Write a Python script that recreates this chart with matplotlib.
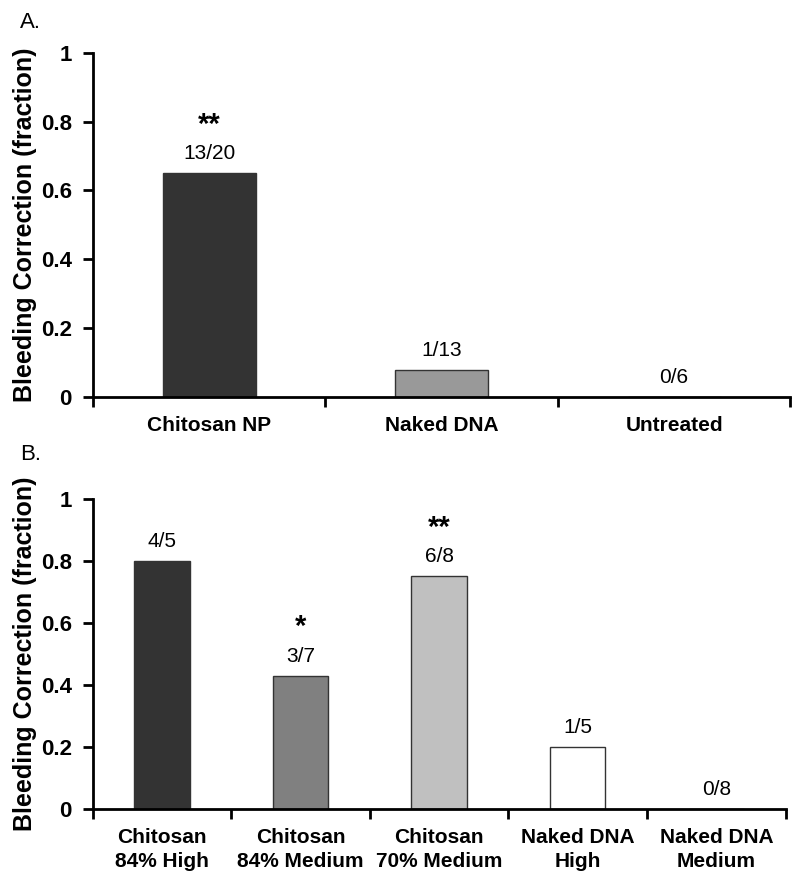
import numpy as np
import matplotlib.pyplot as plt

plt.rcParams['font.family'] = ['Liberation Sans', 'DejaVu Sans']

# Panel A data
cats_a = ["Chitosan NP", "Naked DNA", "Untreated"]
vals_a = [0.65, 1 / 13, 0.0]
counts_a = ["13/20", "1/13", "0/6"]
stars_a = ["**", "", ""]
colors_a = ["#333333", "#999999", "#ffffff"]

# Panel B data
cats_b = ["Chitosan\n84% High", "Chitosan\n84% Medium", "Chitosan\n70% Medium",
          "Naked DNA\nHigh", "Naked DNA\nMedium"]
vals_b = [0.8, 3 / 7, 0.75, 0.2, 0.0]
counts_b = ["4/5", "3/7", "6/8", "1/5", "0/8"]
stars_b = ["", "*", "**", "", ""]
colors_b = ["#333333", "#808080", "#c0c0c0", "#ffffff", "#ffffff"]

fig = plt.figure(figsize=(8, 8.8), dpi=100)
ax_a = fig.add_axes([0.116, 0.549, 0.872, 0.391])
ax_b = fig.add_axes([0.116, 0.081, 0.866, 0.352])


def draw_panel(ax, cats, vals, counts, stars, colors, label_x):
    n = len(cats)
    x = np.arange(n)
    ax.bar(x, vals, width=0.4, color=colors, edgecolor="#333333", linewidth=1.0, zorder=2)
    for xi, v, c, s in zip(x, vals, counts, stars):
        ax.annotate(c, (xi, v), xytext=(0, 14), textcoords="offset points",
                    ha="center", va="center", fontsize=15)
        if s:
            ax.annotate(s, (xi, v), xytext=(0, 35), textcoords="offset points",
                        ha="center", va="center", fontsize=21, fontweight="bold")
    ax.set_xlim(-0.5, n - 0.5)
    ax.set_ylim(0, 1)
    ax.set_yticks([0, 0.2, 0.4, 0.6, 0.8, 1])
    ax.set_yticklabels(["0", "0.2", "0.4", "0.6", "0.8", "1"], fontsize=16, fontweight="bold")
    ax.set_xticks(x)
    ax.set_xticklabels(cats, fontsize=15, fontweight="bold", linespacing=1.3)
    ax.set_xticks(np.arange(n + 1) - 0.5, minor=True)
    ax.tick_params(axis="x", which="major", length=0, pad=14)
    ax.tick_params(axis="x", which="minor", length=7, width=2, direction="out")
    ax.tick_params(axis="y", length=7, width=2, direction="out", pad=8)
    for side in ["top", "right"]:
        ax.spines[side].set_visible(False)
    for side in ["left", "bottom"]:
        ax.spines[side].set_linewidth(2)
    ax.set_ylabel("Bleeding Correction (fraction)", fontsize=18, fontweight="bold")
    ax.yaxis.set_label_coords(label_x, 0.5)


draw_panel(ax_a, cats_a, vals_a, counts_a, stars_a, colors_a, -0.08)
draw_panel(ax_b, cats_b, vals_b, counts_b, stars_b, colors_b, -0.081)

fig.text(0.025, 0.975, "A.", fontsize=16, va="center", ha="left")
fig.text(0.025, 0.483, "B.", fontsize=16, va="center", ha="left")

fig.savefig("out.png", dpi=100)
